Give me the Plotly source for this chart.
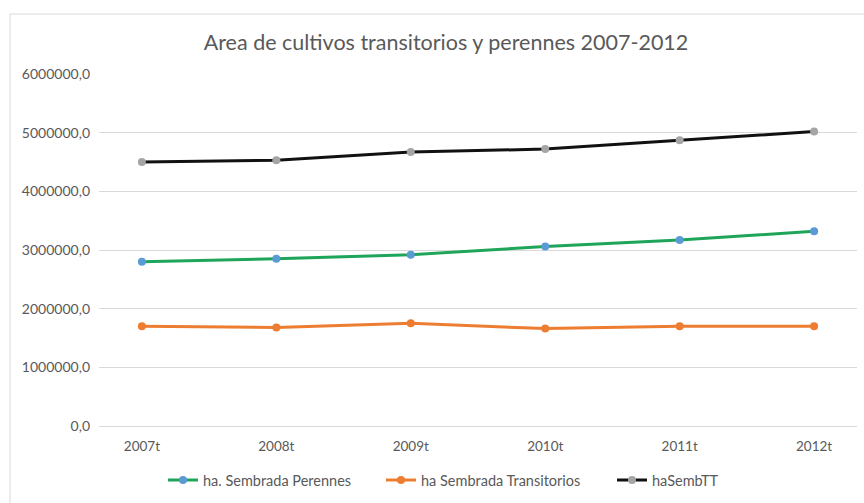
import plotly.graph_objects as go

categories = ["2007t", "2008t", "2009t", "2010t", "2011t", "2012t"]
perennes = [2800000, 2850000, 2920000, 3060000, 3170000, 3320000]
transitorios = [1700000, 1680000, 1750000, 1660000, 1700000, 1700000]
total_tt = [4500000, 4530000, 4670000, 4720000, 4870000, 5020000]
y_tickvals = [0, 1000000, 2000000, 3000000, 4000000, 5000000, 6000000]
y_ticktext = ["0,0", "1000000,0", "2000000,0", "3000000,0", "4000000,0", "5000000,0", "6000000,0"]

FONT = "Lato, 'Liberation Sans Narrow', 'DejaVu Sans Condensed', sans-serif"
TXT = "#595959"

L, R, T, B = 99, 7, 74, 71
W, H = 864, 503
pw = W - L - R
ph = H - T - B

def px_x(x):
    return (x - L) / pw

def px_y(y):
    return (H - B - y) / ph

fig = go.Figure()
fig.add_trace(go.Scatter(x=categories, y=perennes, name="ha. Sembrada Perennes",
                         mode="lines+markers", legend="legend",
                         line=dict(color="#1FA55A", width=3),
                         marker=dict(color="#5B9BD5", size=8)))
fig.add_trace(go.Scatter(x=categories, y=transitorios, name="ha Sembrada Transitorios",
                         mode="lines+markers", legend="legend2",
                         line=dict(color="#ED7D31", width=3),
                         marker=dict(color="#ED7D31", size=8)))
fig.add_trace(go.Scatter(x=categories, y=total_tt, name="haSembTT",
                         mode="lines+markers", legend="legend3",
                         line=dict(color="#111111", width=3),
                         marker=dict(color="#A5A5A5", size=8)))

def leg(xpx):
    return dict(orientation="h", x=px_x(xpx), xanchor="left",
                y=px_y(487), yanchor="middle",
                font=dict(size=14.5, color=TXT, family=FONT),
                bgcolor="rgba(0,0,0,0)")

fig.update_layout(
    width=W, height=H,
    margin=dict(l=L, r=R, t=T, b=B),
    paper_bgcolor="white", plot_bgcolor="white",
    font=dict(family=FONT, color=TXT, size=13.5),
    title=dict(text="Area de cultivos transitorios y perennes 2007-2012",
               x=446 / W, xref="container", xanchor="center",
               y=1 - 42 / H, yref="container", yanchor="middle",
               font=dict(size=21.5, color=TXT, family=FONT)),
    showlegend=True,
    legend=leg(163),
    legend2=leg(381),
    legend3=leg(612),
    xaxis=dict(type="category", showgrid=False, showline=False, zeroline=False,
               ticks="", tickfont=dict(size=13.5, color=TXT), ticklabelstandoff=10),
    yaxis=dict(range=[0, 6000000], tickvals=y_tickvals, ticktext=y_ticktext,
               showgrid=True, gridcolor="#D9D9D9", gridwidth=1,
               zeroline=True, zerolinecolor="#D9D9D9", zerolinewidth=1,
               showline=False, ticks="", tickfont=dict(size=14, color=TXT),
               ticklabelstandoff=8),
    shapes=[dict(type="rect", xref="paper", yref="paper",
                 x0=px_x(10), x1=px_x(880), y0=px_y(520), y1=px_y(13),
                 line=dict(color="#D9D9D9", width=1), fillcolor="rgba(0,0,0,0)",
                 layer="below")],
)

fig.write_html("out.html")
